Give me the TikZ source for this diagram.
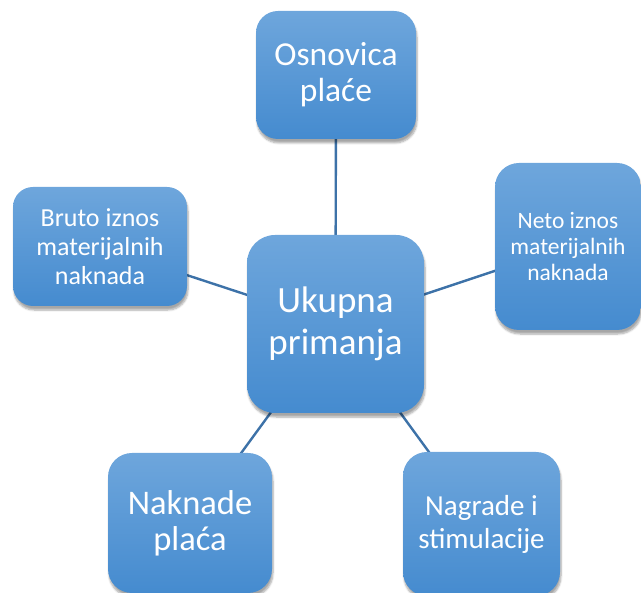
\documentclass[tikz,border=0pt]{standalone}
\usepackage{fontspec}
\setmainfont{Carlito}
\usetikzlibrary{shadows.blur,backgrounds}
\definecolor{boxtop}{HTML}{6EA6DC}
\definecolor{boxbot}{HTML}{458BCF}
\definecolor{linkc}{HTML}{3D72A8}
\tikzset{
  sabox/.style={rectangle, top color=boxtop, bottom color=boxbot, draw=none,
    text=white, align=center, inner sep=0pt,
    blur shadow={shadow blur steps=6, shadow xshift=1pt, shadow yshift=-4pt, shadow opacity=35, shadow blur extra rounding=3pt}},
  link/.style={draw=linkc, line width=2.4pt}
}
\begin{document}
\begin{tikzpicture}[x=1pt,y=-1pt]
\useasboundingbox (0,0) rectangle (641,593);
\clip (0,0) rectangle (641,593);
\node[sabox, minimum width=160pt, minimum height=128pt, rounded corners=22pt,
  font=\fontsize{33.5}{36}\selectfont] (osn) at (336,75) {Osnovica\\plaće};
\node[sabox, minimum width=177pt, minimum height=178pt, rounded corners=28pt,
  font=\fontsize{37}{42}\selectfont] (cen) at (335.5,324) {Ukupna\\primanja};
\node[sabox, minimum width=174pt, minimum height=119pt, rounded corners=20pt,
  font=\fontsize{26}{29}\selectfont] (bru) at (100,246.5) {Bruto iznos\\materijalnih\\naknada};
\node[sabox, minimum width=146pt, minimum height=167pt, rounded corners=24pt,
  font=\fontsize{23.5}{26}\selectfont] (neto) at (568,246.5) {Neto iznos\\materijalnih\\naknada};
\node[sabox, minimum width=164pt, minimum height=140pt, rounded corners=24pt,
  font=\fontsize{34.5}{36}\selectfont] (nak) at (190,523) {Naknade\\plaća};
\node[sabox, minimum width=157pt, minimum height=144pt, rounded corners=24pt,
  font=\fontsize{29}{33}\selectfont] (nag) at (481.5,524) {Nagrade i\\stimulacije};
\begin{scope}[on background layer]
\draw[link] (cen.center) -- (osn.center);
\draw[link] (cen.center) -- (bru.center);
\draw[link] (cen.center) -- (neto.center);
\draw[link] (cen.center) -- (nak.center);
\draw[link] (cen.center) -- (nag.center);
\end{scope}
\end{tikzpicture}
\end{document}
